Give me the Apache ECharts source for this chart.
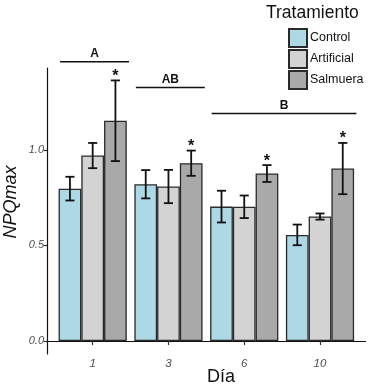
<!DOCTYPE html>
<html>
<head>
<meta charset="utf-8">
<script src="https://cdn.jsdelivr.net/npm/echarts@6/dist/echarts.min.js"></script>
<style>html,body{margin:0;padding:0;background:#fff;}#c{width:369px;height:390px;}</style>
</head>
<body>
<div id="c"></div>
<script>
// ---- data ----
var categories = ['1', '3', '6', '10'];
var seriesNames = ['Control', 'Artificial', 'Salmuera'];
var control = [0.797, 0.820, 0.703, 0.555];
var controlErr = [0.062, 0.074, 0.083, 0.054];
var artificial = [0.970, 0.808, 0.702, 0.651];
var artificialErr = [0.066, 0.087, 0.059, 0.016];
var salmuera = [1.152, 0.930, 0.876, 0.902];
var salmueraErr = [0.211, 0.066, 0.044, 0.134];
var salmueraStars = ['*', '*', '*', '*'];
var yTicks = [0.0, 0.5, 1.0];
var groupLabels = ['A', 'AB', 'B'];
var groupStart = [0, 1, 2];
var groupEnd = [0, 1, 3];
var groupHeight = [1.461, 1.326, 1.190];

// ---- chart ----
var FONT = 'Liberation Sans';
var colors = ['#add8e6', '#d3d3d3', '#a9a9a9'];
var values = [control, artificial, salmuera];
var errs = [controlErr, artificialErr, salmueraErr];
var YMIN = -0.068, YMAX = 1.428;

function errRender(k) {
  return function (params, api) {
    var cat = api.value(0), lo = api.value(1), hi = api.value(2);
    var band = api.size([1, 0])[0];
    var bw = band * 0.3;
    var cx = api.coord([cat, 0])[0] + (k - 1) * bw;
    var yLo = api.coord([cat, lo])[1], yHi = api.coord([cat, hi])[1];
    var cap = bw * 0.2;
    var st = { stroke: '#111', lineWidth: 1.8 };
    var ch = [
      { type: 'line', shape: { x1: cx, y1: yLo, x2: cx, y2: yHi }, style: st },
      { type: 'line', shape: { x1: cx - cap, y1: yLo, x2: cx + cap, y2: yLo }, style: st },
      { type: 'line', shape: { x1: cx - cap, y1: yHi, x2: cx + cap, y2: yHi }, style: st }
    ];
    if (k === 2 && salmueraStars[params.dataIndex]) {
      ch.push({ type: 'text', style: { text: salmueraStars[params.dataIndex], x: cx, y: yHi + 4, textAlign: 'center', textVerticalAlign: 'bottom', font: 'bold 16px ' + FONT, fill: '#111' } });
    }
    return { type: 'group', children: ch };
  };
}

var series = [];
seriesNames.forEach(function (n, k) {
  series.push({
    name: n, type: 'bar', xAxisIndex: 1, yAxisIndex: 1,
    data: values[k], barWidth: '30%', barGap: '0%',
    itemStyle: { color: colors[k], borderColor: '#2a2a2a', borderWidth: 1.3 },
    silent: true
  });
});
seriesNames.forEach(function (n, k) {
  series.push({
    type: 'custom', xAxisIndex: 1, yAxisIndex: 1, clip: false, silent: true, z: 5,
    data: values[k].map(function (v, i) { return [i, v - errs[k][i], v + errs[k][i]]; }),
    renderItem: errRender(k)
  });
});
series.push({
  type: 'custom', xAxisIndex: 1, yAxisIndex: 1, clip: false, silent: true, z: 5,
  data: groupLabels.map(function (l, i) { return [groupStart[i], groupEnd[i], groupHeight[i]]; }),
  renderItem: function (params, api) {
    var band = api.size([1, 0])[0];
    var h = api.value(2);
    var y = api.coord([0, h])[1];
    var x1 = api.coord([api.value(0), h])[0] - band * 0.43;
    var x2 = api.coord([api.value(1), h])[0] + band * 0.48;
    return { type: 'group', children: [
      { type: 'line', shape: { x1: x1, y1: y, x2: x2, y2: y }, style: { stroke: '#111', lineWidth: 1.5 } },
      { type: 'text', style: { text: groupLabels[params.dataIndex], x: (x1 + x2) / 2, y: y - 2, textAlign: 'center', textVerticalAlign: 'bottom', font: 'bold 12px ' + FONT, fill: '#111' } }
    ] };
  }
});

var chart = echarts.init(document.getElementById('c'), null, { renderer: 'canvas' });
chart.setOption({
  animation: false,
  textStyle: { fontFamily: FONT },
  title: [
    { text: 'Tratamiento', left: 261, top: -1, textStyle: { fontFamily: FONT, fontSize: 17.5, fontWeight: 'normal', color: '#111' } },
    { text: 'Día', left: 216, top: 363, textAlign: 'center', textStyle: { fontFamily: FONT, fontSize: 18, fontWeight: 'normal', color: '#111' } }
  ],
  graphic: [
    { type: 'text', x: 11, y: 202, rotation: Math.PI / 2, silent: true,
      style: { text: 'NPQmax', textAlign: 'center', textVerticalAlign: 'middle', font: 'italic 18px ' + FONT, fill: '#111' } }
  ],
  legend: {
    orient: 'vertical', left: 283, top: 23, itemWidth: 18, itemHeight: 18, itemGap: 1,
    icon: 'rect', data: seriesNames,
    textStyle: { fontFamily: FONT, fontSize: 12.5, color: '#111', padding: [0, 0, 0, -2] }
  },
  grid: [
    { left: 47, right: 3.5, top: 68, bottom: 36, outerBoundsMode: 'none', containLabel: false },
    { left: 54.8, right: 11.1, top: 68, bottom: 36, outerBoundsMode: 'none', containLabel: false }
  ],
  xAxis: [
    { gridIndex: 0, type: 'value', min: 0, max: 1,
      axisLine: { show: true, lineStyle: { color: '#111', width: 1.2 } },
      axisTick: { show: false }, axisLabel: { show: false }, splitLine: { show: false } },
    { gridIndex: 1, type: 'category', data: categories,
      axisLine: { show: false },
      axisTick: { show: true, alignWithLabel: true, length: 4, lineStyle: { color: '#333', width: 1.2 } },
      axisLabel: { fontFamily: FONT, fontSize: 11.5, fontStyle: 'italic', color: '#4d4d4d', margin: 4 } }
  ],
  yAxis: [
    { gridIndex: 0, type: 'value', min: YMIN, max: YMAX,
      axisLine: { show: true, lineStyle: { color: '#111', width: 1.2 } },
      axisTick: { show: true, length: 3.5, customValues: yTicks, lineStyle: { color: '#333', width: 1.2 } },
      axisLabel: { customValues: yTicks, margin: 3, fontFamily: FONT, fontSize: 11, fontStyle: 'italic', color: '#4d4d4d',
        formatter: function (v) { return v.toFixed(1); } },
      splitLine: { show: false } },
    { gridIndex: 1, type: 'value', min: YMIN, max: YMAX, show: false, splitLine: { show: false } }
  ],
  series: series
});
</script>
</body>
</html>
